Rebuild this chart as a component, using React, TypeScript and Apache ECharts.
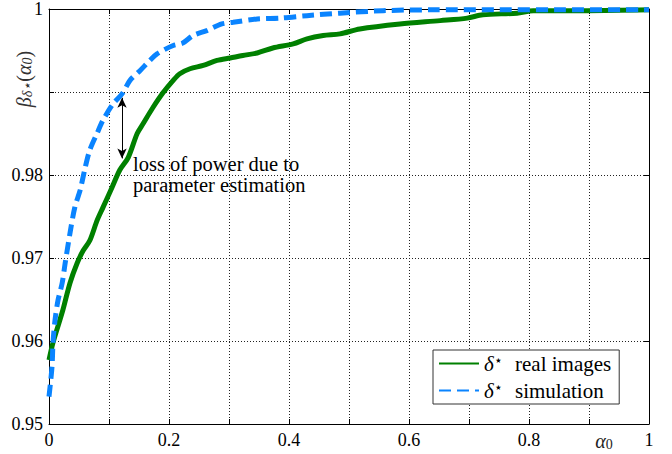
import React, { useEffect, useRef } from "react";
import * as echarts from "echarts";

const realX = [0, 0.0067, 0.023, 0.035, 0.047, 0.057, 0.068, 0.08, 0.09, 0.105, 0.118, 0.132, 0.147, 0.157, 0.173, 0.19, 0.207, 0.218, 0.235, 0.257, 0.28, 0.302, 0.323, 0.347, 0.373, 0.407, 0.43, 0.457, 0.485, 0.518, 0.585, 0.652, 0.697, 0.723, 0.78, 0.807, 0.897, 1.0];
const realY = [0.9577, 0.9598, 0.9637, 0.967, 0.9694, 0.9709, 0.9721, 0.9745, 0.9761, 0.9785, 0.9806, 0.9821, 0.985, 0.9862, 0.9881, 0.9899, 0.9914, 0.9922, 0.9928, 0.9932, 0.9938, 0.9941, 0.9944, 0.9947, 0.9953, 0.9958, 0.9964, 0.9968, 0.997, 0.9976, 0.9982, 0.9986, 0.9989, 0.9993, 0.9995, 0.9998, 0.9998, 0.9999];

const simX = [0, 0.005, 0.0067, 0.01, 0.015, 0.022, 0.027, 0.035, 0.043, 0.052, 0.06, 0.068, 0.08, 0.09, 0.107, 0.122, 0.135, 0.152, 0.168, 0.18, 0.207, 0.223, 0.24, 0.263, 0.288, 0.307, 0.347, 0.385, 0.43, 0.485, 0.557, 0.64, 1.0];
const simY = [0.9533, 0.9569, 0.9598, 0.9625, 0.9649, 0.967, 0.9694, 0.973, 0.9761, 0.9782, 0.9808, 0.983, 0.985, 0.9866, 0.9886, 0.9898, 0.9914, 0.9926, 0.9938, 0.9946, 0.9956, 0.9959, 0.9968, 0.9974, 0.9982, 0.9984, 0.9988, 0.9989, 0.9992, 0.9995, 0.9998, 0.9999, 0.9999];

const arrowX = 0.1217;
const arrowTop = 0.9893;
const arrowBottom = 0.982;

const FONT = "Liberation Serif";

export default function App() {
  const ref = useRef<HTMLDivElement>(null);
  useEffect(() => {
    if (!ref.current) return;
    const chart = echarts.init(ref.current, undefined, { renderer: "svg" });
    const realData = realX.map((x, i) => [x, realY[i]]);
    const simData = simX.map((x, i) => [x, simY[i]]);
    const gridLine = { show: true, lineStyle: { color: "#222", width: 1, type: [1, 2] as any } };
    const axisLine = { show: true, onZero: false, lineStyle: { color: "#000", width: 1 } };
    const tick = { show: true, inside: true, length: 5, lineStyle: { color: "#000" } };
    chart.setOption({
      animation: false,
      backgroundColor: "#fff",
      grid: { left: 49, right: 23, top: 8, bottom: 30 },
      xAxis: [
        {
          type: "value", min: 0, max: 1, interval: 0.1,
          axisLine, axisTick: tick, splitLine: gridLine,
          axisLabel: {
            color: "#000", fontFamily: FONT, fontSize: 18, margin: 7,
            formatter: (v: number) => {
              const k = Math.round(v * 10);
              if (k === 10) return "1";
              if (k === 9) return "{a|α}{s|0}";
              if (k % 2 === 0) return String(k / 10);
              return "";
            },
            rich: {
              a: { fontFamily: FONT, fontSize: 20, fontStyle: "italic", color: "#222", padding: [0, 0, 0, 30] },
              s: { fontFamily: FONT, fontSize: 14, color: "#222", verticalAlign: "bottom" },
            },
          },
        },
        {
          type: "value", position: "top", min: 0, max: 1, interval: 0.1,
          axisLine, axisTick: tick, splitLine: { show: false }, axisLabel: { show: false },
        },
      ],
      yAxis: [
        {
          type: "value", min: 0.95, max: 1, interval: 0.01,
          axisLine, axisTick: tick, splitLine: gridLine,
          axisLabel: {
            color: "#000", fontFamily: FONT, fontSize: 18, margin: 6,
            formatter: (v: number) => {
              const k = Math.round(v * 100);
              if (k === 100) return "1";
              if (k === 99) return "";
              return (k / 100).toFixed(2);
            },
          },
        },
        {
          type: "value", position: "right", min: 0.95, max: 1, interval: 0.01,
          axisLine, axisTick: tick, splitLine: { show: false }, axisLabel: { show: false },
        },
      ],
      legend: {
        orient: "vertical",
        left: 433, top: 350,
        padding: [3, 8, 3, 5],
        itemWidth: 40, itemHeight: 14, itemGap: 6,
        borderColor: "#333", borderWidth: 1, backgroundColor: "#fff",
        borderRadius: 0,
        itemStyle: { opacity: 0 },
        data: ["real", "sim"],
        formatter: (name: string) =>
          name === "real" ? "{d|δ}{s|⋆} real images" : "{d|δ}{s|⋆} simulation",
        textStyle: {
          fontFamily: FONT, fontSize: 21, color: "#000",
          rich: {
            d: { fontFamily: FONT, fontSize: 21, fontStyle: "italic", color: "#000" },
            s: { fontFamily: FONT, fontSize: 14, color: "#000", verticalAlign: "top", padding: [0, 7, 0, 0] },
          },
        },
      },
      graphic: [
        {
          type: "text", left: 133, top: 153,
          style: {
            text: "loss of power due to\nparameter estimation",
            fontFamily: FONT, fontSize: 20.5, lineHeight: 21, fill: "#000",
          },
        },
        {
          type: "text", x: 24, y: 79, rotation: Math.PI / 2,
          style: {
            text: "{b|β}{sub|δ⋆}{p|(}{b|α}{sub|0}{p|)}",
            align: "center", verticalAlign: "middle",
            rich: {
              b: { fontFamily: FONT, fontSize: 20, fontStyle: "italic", fill: "#333" },
              p: { fontFamily: FONT, fontSize: 20, fill: "#333" },
              sub: { fontFamily: FONT, fontSize: 14, fontStyle: "italic", fill: "#333", verticalAlign: "bottom" },
            },
          },
        },
      ],
      series: [
        {
          name: "real", type: "line", data: realData, symbol: "none", smooth: 0.3,
          lineStyle: { color: "#008000", width: 5 }, itemStyle: { color: "#008000" },
          markLine: {
            silent: true, symbol: ["arrow", "arrow"], symbolSize: [7, 10],
            label: { show: false },
            lineStyle: { color: "#000", width: 1, type: "solid" },
            data: [[{ coord: [arrowX, arrowTop] }, { coord: [arrowX, arrowBottom] }]],
          },
        },
        {
          name: "sim", type: "line", data: simData, symbol: "none", smooth: 0.3,
          lineStyle: { color: "#0a84ff", width: 5, type: [12, 6] },
          itemStyle: { color: "#0a84ff" },
        },
      ],
    });
    return () => chart.dispose();
  }, []);
  return <div ref={ref} style={{ position: "fixed", left: 0, top: 0, width: 672, height: 454 }} />;
}
